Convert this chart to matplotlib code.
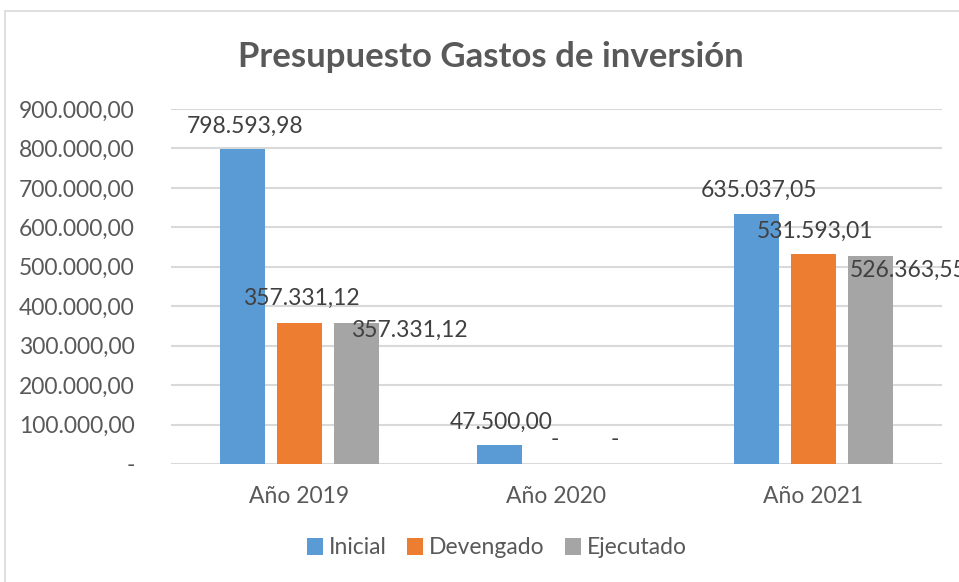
import matplotlib.pyplot as plt
from matplotlib.patches import Rectangle
from matplotlib.ticker import FuncFormatter

# ------------------------------------------------------------
# Data
# ------------------------------------------------------------
categories = ["Año 2019", "Año 2020", "Año 2021"]
series_names = ["Inicial", "Devengado", "Ejecutado"]
inicial = [798593.98, 47500.00, 635037.05]
devengado = [357331.12, 0.0, 531593.01]
ejecutado = [357331.12, 0.0, 526363.55]
colors = ["#5B9BD5", "#ED7D31", "#A5A5A5"]

# label offsets in pixels (dx, dy) relative to bar top centre
label_offsets = [
    [(3, 23), (2, 23), (3, 23)],
    [(2, 25), (-2, 24), (2, 23)],
    [(53, -7), (1, 24), (38, -14)],
]


def es_format(v, pos=None):
    """Spanish number format: 1.234,56 ; zero shown as '-'."""
    if abs(v) < 1e-9:
        return "-"
    s = f"{v:,.2f}"
    return s.replace(",", "X").replace(".", ",").replace("X", ".")


# ------------------------------------------------------------
# Figure
# ------------------------------------------------------------
plt.rcParams["font.family"] = ["Lato", "DejaVu Sans"]
fs = 16.5

fig = plt.figure(figsize=(9.59, 5.82), dpi=100)
fig.patches.append(Rectangle((5 / 959, -0.1), 1.2, 1 - 11 / 582 + 0.1,
                             transform=fig.transFigure, fill=False,
                             edgecolor="#D9D9D9", lw=1.2))

ax = fig.add_axes([171 / 959, 118 / 582, 771 / 959, 355 / 582])

width = 0.175
step = 0.222
x = range(len(categories))
all_series = [inicial, devengado, ejecutado]

for i, (name, vals, col) in enumerate(zip(series_names, all_series, colors)):
    pos = [xi + (i - 1) * step for xi in x]
    ax.bar(pos, vals, width=width, color=col, label=name, zorder=3)
    for j, (p, v) in enumerate(zip(pos, vals)):
        dx, dy = label_offsets[i][j]
        ax.annotate(es_format(v), xy=(p, v), xytext=(dx, dy),
                    textcoords="offset pixels", ha="center", va="center",
                    fontsize=fs, color="#404040", zorder=4,
                    annotation_clip=False)

ax.set_xlim(-0.5, 2.5)
ax.set_ylim(0, 900000)
ax.set_yticks(range(0, 900001, 100000))
ax.yaxis.set_major_formatter(FuncFormatter(es_format))
ax.set_xticks(list(x))
ax.set_xticklabels(categories)
ax.tick_params(axis="both", length=0, labelsize=fs, colors="#595959")
ax.tick_params(axis="y", pad=26)
ax.tick_params(axis="x", pad=16)
ax.grid(axis="y", color="#D9D9D9", lw=1.5, zorder=0)
for sp in ax.spines.values():
    sp.set_visible(False)

fig.text(0.512, 1 - 57 / 582, "Presupuesto Gastos de inversión",
         ha="center", va="center", fontsize=25, fontweight="bold",
         color="#595959")

fig.legend(loc="center", bbox_to_anchor=(0.518, 1 - 548 / 582), ncol=3,
           frameon=False, fontsize=fs, handlelength=0.7, handleheight=0.7,
           handletextpad=0.25, columnspacing=0.9, labelcolor="#595959")

fig.savefig("out.png", dpi=100)
